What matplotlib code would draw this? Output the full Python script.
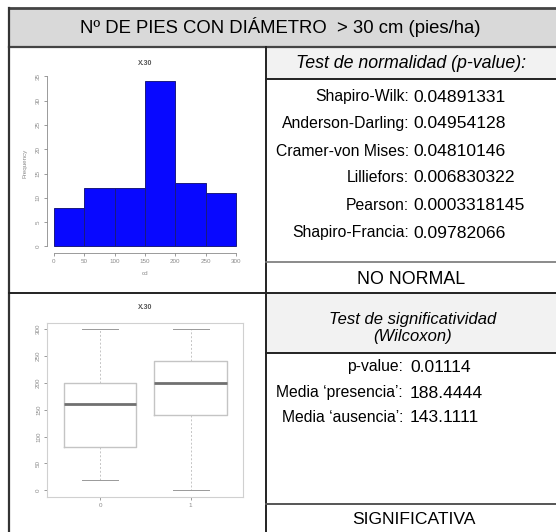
import matplotlib
matplotlib.use("Agg")
import matplotlib.pyplot as plt
from matplotlib.patches import Rectangle
from matplotlib.lines import Line2D

plt.rcParams['font.family'] = ['Liberation Sans', 'DejaVu Sans']

# Datos
titulo = "Nº DE PIES CON DIÁMETRO  > 30 cm (pies/ha)"
hist_bins = [0, 50, 100, 150, 200, 250, 300]
hist_counts = [8, 12, 12, 34, 13, 11]

normal_tests = ["Shapiro-Wilk:", "Anderson-Darling:", "Cramer-von Mises:",
                "Lilliefors:", "Pearson:", "Shapiro-Francia:"]
normal_pvalues = ["0.04891331", "0.04954128", "0.04810146",
                  "0.006830322", "0.0003318145", "0.09782066"]

box_groups = ["0", "1"]
box_whislo = [20, 0]
box_q1 = [80, 140]
box_med = [160, 200]
box_q3 = [200, 240]
box_whishi = [300, 300]

wilcox_labels = ["p-value:", "Media ‘presencia’:", "Media ‘ausencia’:"]
wilcox_values = ["0.01114", "188.4444", "143.1111"]

W, H = 556, 532
fig = plt.figure(figsize=(W / 100, H / 100), dpi=100)
fig.patch.set_facecolor("white")


def fx(x):
    return x / W


def fy(y):
    return 1 - y / H


def rect(x0, y0, x1, y1, color):
    fig.add_artist(Rectangle((fx(x0), fy(y1)), fx(x1) - fx(x0), fy(y0) - fy(y1),
                             transform=fig.transFigure, color=color, lw=0, zorder=0))


def hline(x0, x1, y, color="#222222", lw=1.4):
    fig.add_artist(Line2D([fx(x0), fx(x1)], [fy(y), fy(y)], transform=fig.transFigure,
                          color=color, lw=lw, zorder=5))


def vline(x, y0, y1, color="#222222", lw=1.4):
    fig.add_artist(Line2D([fx(x), fx(x)], [fy(y0), fy(y1)], transform=fig.transFigure,
                          color=color, lw=lw, zorder=5))


# Tabla
XL, XM, XR = 9, 266, 560
rect(XL, 8, XR, 47, "#d9d9d9")
rect(XM, 47, XR, 79, "#f2f2f2")
rect(XM, 293, XR, 353, "#f2f2f2")

hline(XL, XR, 8, "#444444", 2.0)
hline(XL, XR, 47, "#444444", 1.6)
vline(XL, 8, H + 2, "#333333", 1.6)
vline(XM, 47, H + 2)
hline(XM, XR, 79)
hline(XM, XR, 262, "#777777", 1.2)
hline(XL, XR, 293)
hline(XM, XR, 353)
hline(XM, XR, 504, "#555555", 1.4)

fs_lab = 11.3
fs_val = 12.6
fig.text(fx(280), fy(27), titulo, ha="center", va="center", fontsize=13.3)
CX = 411
fig.text(fx(CX), fy(63), "Test de normalidad (p-value):", ha="center", va="center",
         fontsize=12.8, style="italic")
row_y = [97, 124, 151, 178, 205, 233]
for y, lab, val in zip(row_y, normal_tests, normal_pvalues):
    fig.text(fx(409), fy(y), lab, ha="right", va="center", fontsize=fs_lab)
    fig.text(fx(413), fy(y), val, ha="left", va="center", fontsize=fs_val)
fig.text(fx(CX), fy(279), "NO NORMAL", ha="center", va="center", fontsize=12.8)

fig.text(fx(CX + 2), fy(328), "Test de significatividad\n(Wilcoxon)", ha="center",
         va="center", fontsize=12, style="italic", linespacing=1.1)
for y, lab, val in zip([367, 393, 418], wilcox_labels, wilcox_values):
    fig.text(fx(403), fy(y), lab, ha="right", va="center", fontsize=fs_lab)
    fig.text(fx(410), fy(y), val, ha="left", va="center", fontsize=fs_val)
fig.text(fx(CX + 3), fy(519), "SIGNIFICATIVA", ha="center", va="center", fontsize=12.6)

axis_col = "#8a8a8a"
tick_kw = dict(labelsize=4.5, colors=axis_col, length=2.5, width=0.6, pad=2)

# Histograma
ax1 = fig.add_axes([fx(46.7), fy(253.1), fx(243.3) - fx(46.7), fy(74.6) - fy(253.1)])
ax1.hist([b + 25 for b in hist_bins[:-1]], bins=hist_bins, weights=hist_counts,
         color="#0808ff", edgecolor="#1a1a80", linewidth=0.7)
ax1.set_xlim(-12, 312)
ax1.set_ylim(-1.36, 35.36)
for s in ["top", "right"]:
    ax1.spines[s].set_visible(False)
ax1.spines["left"].set_bounds(0, 35)
ax1.spines["bottom"].set_bounds(0, 300)
for s in ["left", "bottom"]:
    ax1.spines[s].set_color(axis_col)
    ax1.spines[s].set_linewidth(0.6)
ax1.set_xticks(range(0, 301, 50))
ax1.set_yticks(range(0, 36, 5))
ax1.tick_params(**tick_kw)
for lab in ax1.get_yticklabels():
    lab.set_rotation(90)
    lab.set_va("center")
ax1.set_title("X.30", fontsize=5, fontweight="bold", color="#555555", pad=7)
ax1.set_xlabel("cd", fontsize=4.5, color=axis_col, labelpad=5)
ax1.set_ylabel("Frequency", fontsize=4.5, color=axis_col, labelpad=6)

# Diagrama de cajas
ax2 = fig.add_axes([fx(47.4), fy(496.8), fx(243.3) - fx(47.4), fy(322.5) - fy(496.8)])
stats = [dict(whislo=lo, q1=a, med=m, q3=b, whishi=hi, label=g)
         for g, lo, a, m, b, hi in zip(box_groups, box_whislo, box_q1, box_med,
                                        box_q3, box_whishi)]
box_col = "#c4c4c4"
ax2.bxp(stats, positions=[1, 2], widths=0.8, showfliers=False, patch_artist=False,
        boxprops=dict(color=box_col, lw=1.0),
        medianprops=dict(color="#707070", lw=2.0),
        whiskerprops=dict(color=box_col, lw=0.7, ls=(0, (2, 2))),
        capprops=dict(color="#999999", lw=0.7), capwidths=0.4)
ax2.set_xlim(0.42, 2.58)
ax2.set_ylim(-12, 312)
for s in ax2.spines.values():
    s.set_color("#d0d0d0")
    s.set_linewidth(0.8)
ax2.set_yticks(range(0, 301, 50))
ax2.tick_params(**tick_kw)
for lab in ax2.get_yticklabels():
    lab.set_rotation(90)
    lab.set_va("center")
ax2.set_title("X.30", fontsize=5, fontweight="bold", color="#555555", pad=10)

fig.savefig("out.png", dpi=100)
